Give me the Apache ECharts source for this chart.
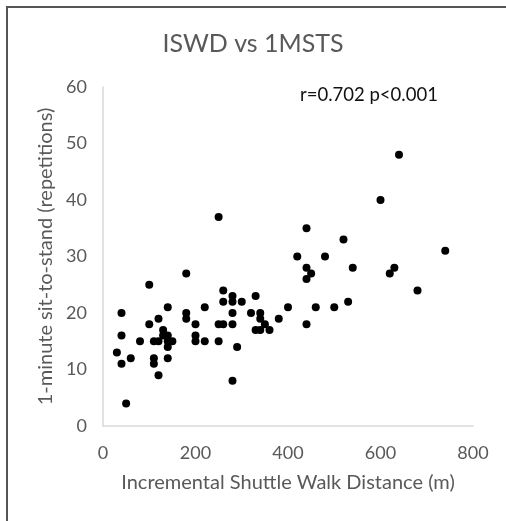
<!DOCTYPE html>
<html>
<head>
<meta charset="utf-8">
<script src="https://cdn.jsdelivr.net/npm/echarts@6/dist/echarts.min.js"></script>
<style>
  html, body { margin: 0; padding: 0; background: #fff; }
  #chart { width: 506px; height: 521px; }
</style>
</head>
<body>
<div id="chart"></div>
<script>
// ISWD (m) and 1MSTS (repetitions)
const iswd = [30, 40, 40, 40, 50, 60, 80, 100, 100, 110, 110, 110, 120, 120, 120, 130, 130, 140, 140, 140,
  140, 140, 150, 180, 180, 180, 200, 200, 200, 220, 220, 250, 250, 250, 260, 260, 260, 280, 280, 280,
  280, 280, 290, 300, 320, 330, 330, 340, 340, 340, 350, 360, 380, 400, 420, 440, 440, 440, 440, 450,
  460, 480, 500, 520, 530, 540, 600, 620, 630, 640, 680, 740]
const msts = [13, 20, 16, 11, 4, 12, 15, 25, 18, 15, 12, 11, 19, 15, 9, 17, 16, 21, 16, 15,
  14, 12, 15, 27, 20, 19, 18, 16, 15, 21, 15, 37, 18, 15, 24, 22, 18, 23, 22, 20,
  18, 8, 14, 22, 20, 23, 17, 20, 19, 17, 18, 17, 19, 21, 30, 35, 28, 26, 18, 27,
  21, 30, 21, 33, 22, 28, 40, 27, 28, 48, 24, 31]
const xTicks = [0, 200, 400, 600, 800]
const yTicks = [0, 10, 20, 30, 40, 50, 60]

const points = iswd.map((v, i) => [v, msts[i]])
const font = 'Lato, "Open Sans", sans-serif'

const myChart = echarts.init(document.getElementById('chart'))
const option = {
  backgroundColor: '#fff',
  animation: false,
  title: {
    text: 'ISWD vs 1MSTS',
    left: 'center',
    top: 26,
    textStyle: { color: '#595959', fontSize: 25, fontWeight: 'normal', fontFamily: font }
  },
  graphic: [
    {
      type: 'rect',
      shape: { x: 7, y: 7, width: 520, height: 520 },
      style: { fill: 'none', stroke: '#555', lineWidth: 2 }
    },
    {
      type: 'text',
      left: 300,
      top: 86,
      style: { text: 'r=0.702 p<0.001', fill: '#111', fontSize: 18.5, fontFamily: font }
    }
  ],
  grid: { left: 103, right: 33, top: 87, bottom: 95 },
  xAxis: {
    type: 'value',
    min: xTicks[0],
    max: xTicks[xTicks.length - 1],
    interval: 200,
    name: 'Incremental Shuttle Walk Distance (m)',
    nameLocation: 'middle',
    nameGap: 47,
    nameTextStyle: { color: '#595959', fontSize: 20, fontFamily: font },
    axisLine: { lineStyle: { color: '#d9d9d9', width: 1.5 } },
    axisTick: { show: false },
    splitLine: { show: false },
    axisLabel: { color: '#595959', fontSize: 18, fontFamily: font, margin: 18 }
  },
  yAxis: {
    type: 'value',
    min: yTicks[0],
    max: yTicks[yTicks.length - 1],
    interval: 10,
    name: '1-minute sit-to-stand (repetitions)',
    nameLocation: 'middle',
    nameGap: 47,
    nameTextStyle: { color: '#595959', fontSize: 20, fontFamily: font },
    axisLine: { show: true, lineStyle: { color: '#d9d9d9', width: 1.5 } },
    axisTick: { show: false },
    splitLine: { show: false },
    axisLabel: { color: '#595959', fontSize: 18, fontFamily: font, margin: 16 }
  },
  series: [
    {
      type: 'scatter',
      data: points,
      symbolSize: 8,
      itemStyle: { color: '#000', opacity: 1 }
    }
  ]
}
myChart.setOption(option)
</script>
</body>
</html>
